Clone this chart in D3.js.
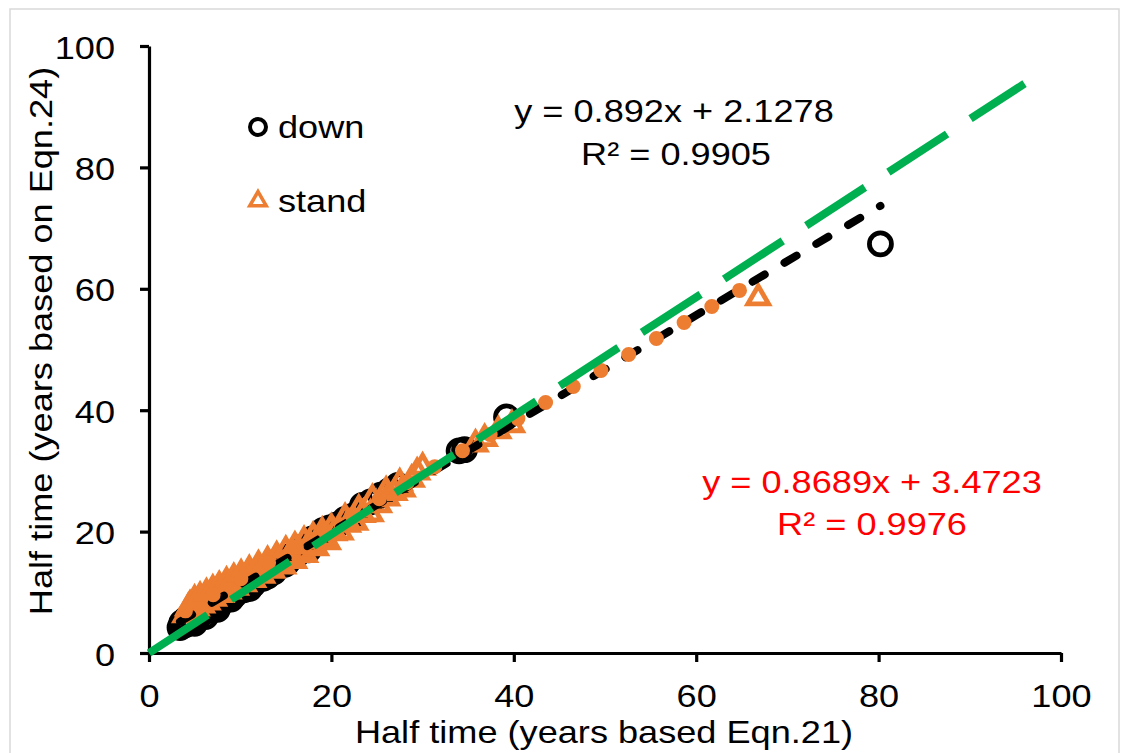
<!DOCTYPE html>
<html>
<head>
<meta charset="utf-8">
<script src="https://cdn.jsdelivr.net/npm/d3@7/dist/d3.min.js"></script>
<style>
  html, body { margin: 0; padding: 0; background: #ffffff; }
  svg { display: block; }
  text { font-family: "Liberation Sans", Arial, sans-serif; }
</style>
</head>
<body>
<svg id="chart" width="1123" height="753"></svg>
<script>
// ---------------- DATA ----------------
const xTicks = [0, 20, 40, 60, 80, 100];
const yTicks = [0, 20, 40, 60, 80, 100];

const downPoints = [
  [3.4,4.2],[3.6,5.0],[3.9,4.6],[4.1,5.6],[4.3,4.9],[4.6,6.0],[4.9,5.5],[5.2,6.6],[5.5,6.1],[5.8,7.2],
  [6.1,6.8],[6.5,7.8],[6.9,7.3],[7.3,8.5],[7.7,8.0],[8.1,9.1],[8.5,8.8],[8.9,9.9],[9.4,9.6],[9.9,10.7],
  [10.4,10.4],[10.9,11.6],[11.4,11.3],[11.9,12.5],[12.5,12.3],[13.1,13.5],[13.7,13.4],[14.3,14.7],[14.9,14.6],[15.5,15.9],
  [16.1,16.0],[16.7,17.4],[17.3,17.3],[17.9,18.8],[18.5,18.9],[19.1,20.2],[19.8,20.6],[20.6,21.1],[21.5,22.0],[22.4,22.6],
  [23.4,24.3],[24.3,24.9],[25.4,26.0],[26.4,26.8],[27.3,27.6],[34.0,33.3],[34.6,33.5],[39.2,38.9],[80.2,67.4],
  [5.0,4.9],[6.2,6.0],[7.5,7.2],[9.0,8.9],[11.0,10.6],[13.0,12.7],[15.2,15.0],[17.5,17.0]
];

const standPoints = [
  [4.0,6.3],[4.3,7.4],[4.6,6.9],[4.9,8.1],[5.2,7.4],[5.5,8.6],[5.8,7.9],[6.1,9.1],[6.4,8.4],[6.8,9.7],
  [7.1,9.0],[7.5,10.3],[7.9,9.6],[8.3,10.8],[8.7,10.2],[9.1,11.5],[9.5,10.8],[9.9,12.1],[10.4,11.4],[10.9,12.8],
  [11.4,12.1],[11.9,13.5],[12.4,12.8],[12.9,14.2],[13.5,13.6],[14.1,15.0],[14.7,14.3],[15.3,15.8],[15.9,15.2],[16.5,16.7],
  [17.1,16.2],[17.7,17.7],[18.3,17.3],[19.0,18.8],[19.6,18.3],[20.3,19.8],[21.0,19.9],[21.8,21.2],[22.6,21.5],[23.4,22.8],
  [24.3,22.9],[25.2,24.4],[26.1,25.5],[26.9,26.4],[27.8,27.0],[28.8,28.6],[29.4,29.8],[35.8,34.4],[36.8,35.3],[38.3,36.6],
  [39.8,37.6],[66.8,58.5],
  [4.5,7.9],[5.0,8.8],[5.6,9.3],[6.3,9.9],[7.0,10.5],[7.7,11.1],[8.5,11.8],[9.3,12.4],[10.1,13.0],[11.0,13.7],
  [12.0,14.5],[13.0,15.2],[14.0,16.0],[15.0,16.9],[16.0,17.6],[17.0,18.5],[18.0,19.2],[19.0,20.0],[20.0,20.6],[21.5,22.3],
  [23.0,23.7],[24.5,25.4],[26.0,26.7],[27.5,28.0],[30.0,30.6]
];

// trendline coefficients [slope, intercept]
const downFit = [0.892, 2.1278];
const standFit = [0.8689, 3.4723];
// reference (green) line end points
const refLine = [[0, 0], [96, 93.8]];

const downEqText = ["y = 0.892x + 2.1278", "R\u00B2 = 0.9905"];
const standEqText = ["y = 0.8689x + 3.4723", "R\u00B2 = 0.9976"];
const legendLabels = ["down", "stand"];
const xTitle = "Half time (years based Eqn.21)";
const yTitle = "Half time (years based on Eqn.24)";

// ---------------- LAYOUT ----------------
const svg = d3.select("#chart");
const X0 = 149, X1 = 1061, Y0 = 653, Y1 = 46;
const x = d3.scaleLinear().domain([0, 100]).range([X0, X1]);
const y = d3.scaleLinear().domain([0, 100]).range([Y0, Y1]);
const SX = 1.13; // horizontal text stretch
const FONT = 32;
const ORANGE = "#ED7D31", GREEN = "#00B050", RED = "#FF0000";

// frame
svg.append("rect").attr("x", 10).attr("y", 9).attr("width", 1109).attr("height", 760)
  .attr("fill", "#ffffff").attr("stroke", "#d9d9d9").attr("stroke-width", 1.5);

function label(txt, px, py, anchor, color, rot) {
  return svg.append("text")
    .attr("transform", `translate(${px},${py})` + (rot ? ` rotate(${rot})` : "") + ` scale(${SX},1)`)
    .attr("text-anchor", anchor)
    .attr("font-size", FONT)
    .attr("fill", color || "#000")
    .text(txt);
}

// axes
const xAxis = svg.append("g").attr("transform", `translate(0,${Y0})`)
  .call(d3.axisBottom(x).tickValues(xTicks).tickSize(9).tickSizeOuter(0).tickFormat(d3.format("d")));
const yAxis = svg.append("g").attr("transform", `translate(${X0},0)`)
  .call(d3.axisLeft(y).tickValues(yTicks).tickSize(9).tickSizeOuter(0).tickFormat(d3.format("d")));
[xAxis, yAxis].forEach(g => {
  g.select(".domain").attr("stroke", "#000").attr("stroke-width", 3.2);
  g.selectAll(".tick line").attr("stroke", "#000").attr("stroke-width", 3.2);
  g.selectAll(".tick text").attr("font-size", FONT).attr("fill", "#000")
    .attr("font-family", "Liberation Sans, Arial, sans-serif");
});
xAxis.selectAll(".tick text").attr("y", 0).attr("dy", null)
  .attr("transform", `translate(0,54) scale(${SX},1)`);
yAxis.selectAll(".tick text").attr("x", 0).attr("dy", null)
  .attr("transform", `translate(-34,12) scale(${SX},1)`);

// axis titles
label(xTitle, 604, 743, "middle");
label(yTitle, 52, 341, "middle", "#000", -90);

// markers: down circles
const plot = svg.append("g");
plot.selectAll("circle.down").data(downPoints).enter().append("circle")
  .attr("class", "down")
  .attr("cx", d => x(d[0])).attr("cy", d => y(d[1])).attr("r", 11)
  .attr("fill", "none").attr("stroke", "#000").attr("stroke-width", 4.8);

// stand triangles
const tri = d3.symbol().type(d3.symbolTriangle).size(185);
plot.selectAll("path.stand").data(standPoints).enter().append("path")
  .attr("class", "stand")
  .attr("transform", d => `translate(${x(d[0])},${y(d[1])})`)
  .attr("d", tri)
  .attr("fill", "none").attr("stroke", ORANGE).attr("stroke-width", 4.8);

// trendlines
const line = d3.line().x(d => x(d[0])).y(d => y(d[1]));
function fitLine(pts, fit) {
  const ext = d3.extent(pts, d => d[0]);
  return ext.map(v => [v, fit[0] * v + fit[1]]);
}
svg.append("path").datum(fitLine(downPoints, downFit)).attr("d", line)
  .attr("fill", "none").attr("stroke", "#000").attr("stroke-width", 8)
  .attr("stroke-linecap", "round").attr("stroke-dasharray", "14 23");
svg.append("path").datum(fitLine(standPoints, standFit)).attr("d", line)
  .attr("fill", "none").attr("stroke", ORANGE).attr("stroke-width", 15)
  .attr("stroke-linecap", "round").attr("stroke-dasharray", "0 32");
svg.append("path").datum(refLine).attr("d", line)
  .attr("fill", "none").attr("stroke", GREEN).attr("stroke-width", 8)
  .attr("stroke-dasharray", "70 28");

// legend
svg.append("circle").attr("cx", 258).attr("cy", 127).attr("r", 8)
  .attr("fill", "none").attr("stroke", "#000").attr("stroke-width", 4);
svg.append("path").attr("transform", "translate(258,201)")
  .attr("d", d3.symbol().type(d3.symbolTriangle).size(115))
  .attr("fill", "none").attr("stroke", ORANGE).attr("stroke-width", 3.6);
label(legendLabels[0], 278, 138, "start");
label(legendLabels[1], 278, 212, "start");

// equations
label(downEqText[0], 674, 122, "middle");
label(downEqText[1], 676, 165, "middle");
label(standEqText[0], 872, 493, "middle", RED);
label(standEqText[1], 872, 535, "middle", RED);
</script>
</body>
</html>
